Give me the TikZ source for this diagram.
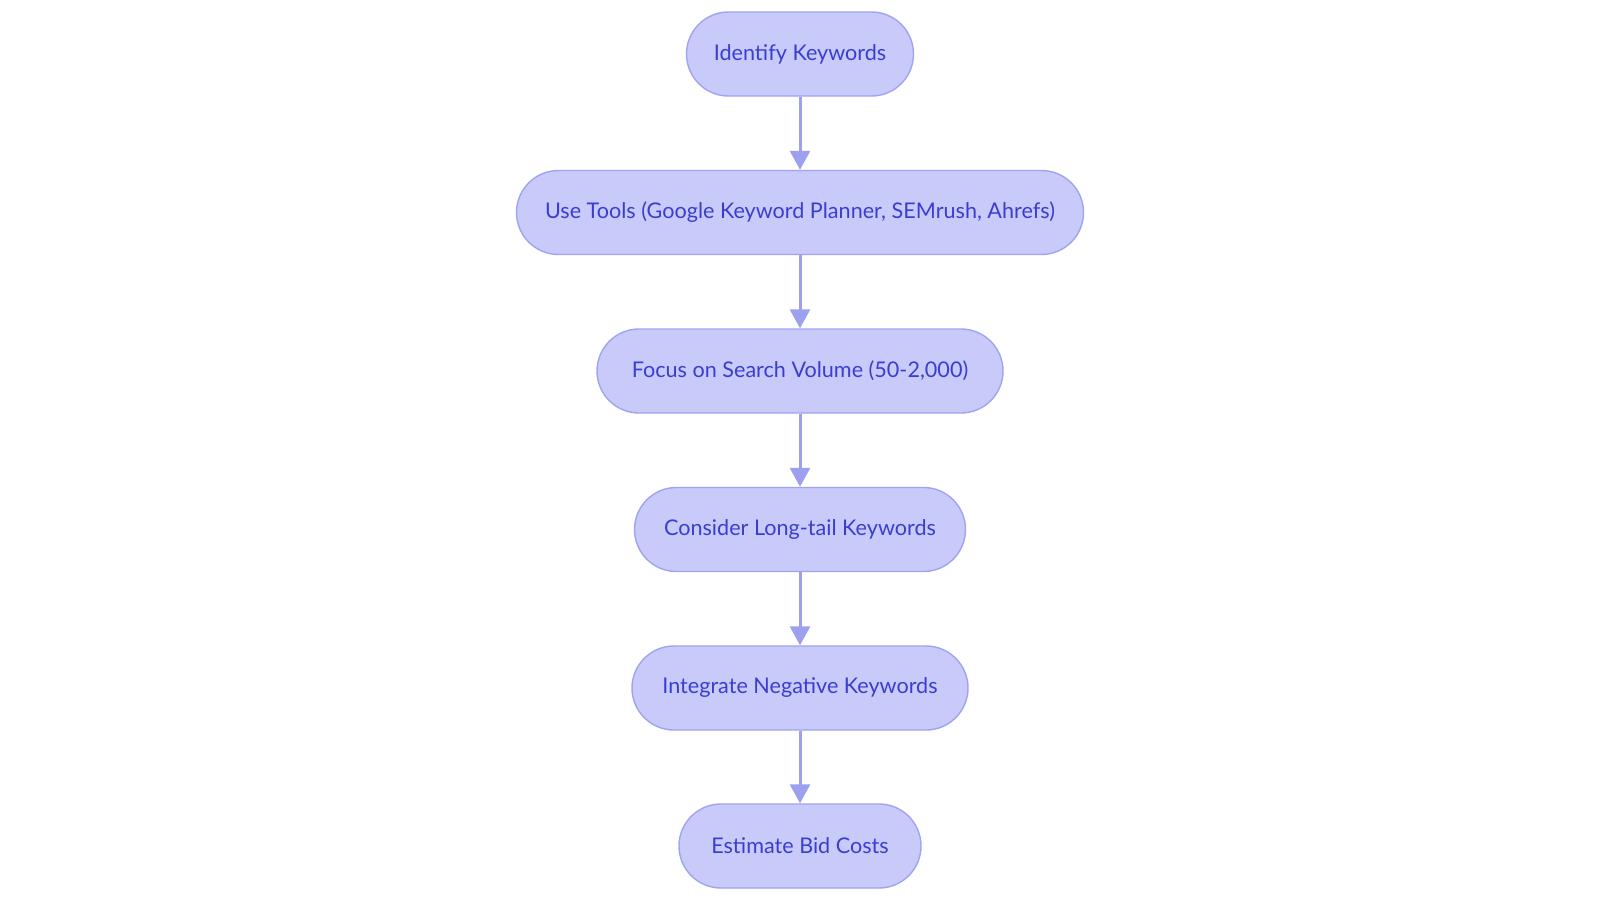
\documentclass[tikz,border=0pt]{standalone}
\usepackage{fontspec}
\setmainfont{Lato}
\usetikzlibrary{arrows.meta}
\definecolor{boxfill}{HTML}{C8CBFA}
\definecolor{boxline}{HTML}{A0A3F0}
\definecolor{boxtext}{HTML}{3A3ED0}
\definecolor{arrowcol}{HTML}{9DA0EE}
\tikzset{
  stadium/.style={draw=boxline, fill=boxfill, line width=1.4pt, rounded corners=42pt,
    minimum height=84pt, inner sep=0pt, text=boxtext, font=\fontsize{21.6}{26}\selectfont},
  flowarrow/.style={draw=arrowcol, line width=3pt, -{Triangle[width=20pt,length=19pt]}}
}
\begin{document}
\begin{tikzpicture}[x=1pt,y=-1pt]
\useasboundingbox (0,0) rectangle (1600,903);
\node[stadium, minimum width=227pt] (n1) at (800,54) {Identify Keywords};
\node[stadium, minimum width=567pt] (n2) at (800,212.5) {Use Tools (Google Keyword Planner, SEMrush, Ahrefs)};
\node[stadium, minimum width=406pt] (n3) at (800,371) {Focus on Search Volume (50-2,000)};
\node[stadium, minimum width=331pt] (n4) at (800,529.5) {Consider Long-tail Keywords};
\node[stadium, minimum width=336pt] (n5) at (800,688) {Integrate Negative Keywords};
\node[stadium, minimum width=242pt] (n6) at (800,846) {Estimate Bid Costs};
\draw[flowarrow] (n1) -- (n2);
\draw[flowarrow] (n2) -- (n3);
\draw[flowarrow] (n3) -- (n4);
\draw[flowarrow] (n4) -- (n5);
\draw[flowarrow] (n5) -- (n6);
\end{tikzpicture}
\end{document}
